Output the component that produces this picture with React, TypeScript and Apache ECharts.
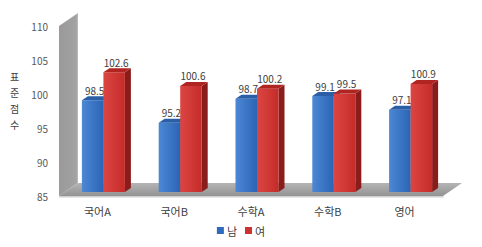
import React, { useEffect, useRef } from "react";
import * as echarts from "echarts";

const categories = ["국어A", "국어B", "수학A", "수학B", "영어"];
const seriesNames = ["남", "여"];
const maleScores = [98.5, 95.2, 98.7, 99.1, 97.1];
const femaleScores = [102.6, 100.6, 100.2, 99.5, 100.9];
const yMin = 85;
const yMax = 110;
const yStep = 5;
const axisTitle = "표\n준\n점\n수";

const FONT = "'Noto Sans CJK KR', 'Noto Sans', sans-serif";

const palettes = [
  { front: ["#4c88d6", "#2b64b4"], side: "#1d4c8c", top: "#2a5fa8", legend: "#2e6bbd" },
  { front: ["#dc4642", "#c42c29"], side: "#8a1d1b", top: "#b02422", legend: "#cc3330" },
];

function barRenderer(idx: number) {
  const pal = palettes[idx];
  return (params: any, api: any) => {
    const cat = api.value(0);
    const val = api.value(1);
    const band = api.size([1, 0])[0];
    const bw = band * 0.28;
    const topPt = api.coord([cat, val]);
    const basePt = api.coord([cat, yMin]);
    const sx = 6, sy = -4, dx = 6, dy = -4;
    const x0 = topPt[0] - bw + idx * bw + sx;
    const yt = topPt[1] + sy;
    const yb = basePt[1] + sy;
    return {
      type: "group",
      children: [
        {
          type: "polygon",
          shape: { points: [[x0 + bw, yt], [x0 + bw + dx, yt + dy], [x0 + bw + dx, yb + dy], [x0 + bw, yb]] },
          style: { fill: pal.side },
        },
        {
          type: "rect",
          shape: { x: x0, y: yt, width: bw, height: yb - yt },
          style: {
            fill: new echarts.graphic.LinearGradient(0, 0, 1, 0, [
              { offset: 0, color: pal.front[0] },
              { offset: 1, color: pal.front[1] },
            ]),
          },
        },
        {
          type: "polygon",
          shape: { points: [[x0, yt], [x0 + dx, yt + dy], [x0 + bw + dx, yt + dy], [x0 + bw, yt]] },
          style: { fill: pal.top },
        },
        {
          type: "text",
          style: {
            text: String(val.toFixed(1)),
            x: x0 + bw / 2 + 2,
            y: yt + dy - 1,
            align: "center",
            verticalAlign: "bottom",
            fill: "#404040",
            font: `10px ${FONT}`,
          },
        },
      ],
    };
  };
}

function frameRenderer(params: any, api: any) {
  const cs = params.coordSys;
  const L = cs.x, R = cs.x + cs.width, T = cs.y, B = cs.y + cs.height;
  const dx = 19, dy = -13;
  return {
    type: "group",
    children: [
      {
        type: "polygon",
        shape: { points: [[L, T], [L + dx, T + dy], [L + dx, B + dy], [L, B]] },
        style: {
          fill: new echarts.graphic.LinearGradient(0, 0, 1, 0, [
            { offset: 0, color: "#9a9a9a" },
            { offset: 0.9, color: "#a2a2a2" },
            { offset: 1, color: "#bdbdbd" },
          ]),
        },
      },
      {
        type: "polygon",
        shape: { points: [[L, B], [L + dx, B + dy], [R + dx, B + dy], [R, B]] },
        style: {
          fill: new echarts.graphic.LinearGradient(0, 0, 0, 1, [
            { offset: 0, color: "#b4b4b4" },
            { offset: 1, color: "#939393" },
          ]),
        },
      },
      {
        type: "polygon",
        shape: { points: [[L, B], [R, B], [R + 1, B + 1.5], [L, B + 1.5]] },
        style: { fill: "#cfcfcf" },
      },
    ],
  };
}

export default function App() {
  const ref = useRef<HTMLDivElement>(null);
  useEffect(() => {
    if (!ref.current) return;
    const chart = echarts.init(ref.current, null, { renderer: "svg" });
    chart.setOption({
      animation: false,
      backgroundColor: "#ffffff",
      textStyle: { fontFamily: FONT },
      grid: { left: 59, right: 39, top: 26, bottom: 51 },
      legend: {
        data: seriesNames,
        bottom: 6,
        left: "center",
        itemWidth: 7,
        itemHeight: 7,
        itemGap: 8,
        icon: "rect",
        textStyle: { fontSize: 11, color: "#404040", fontFamily: FONT, padding: [0, 0, 0, -2] },
      },
      xAxis: {
        type: "category",
        data: categories,
        axisLine: { show: false },
        axisTick: { show: false },
        splitLine: { show: false },
        axisLabel: { margin: 9, fontSize: 11, color: "#404040", fontFamily: FONT },
      },
      yAxis: {
        type: "value",
        min: yMin,
        max: yMax,
        interval: yStep,
        axisLine: { show: false },
        axisTick: { show: false },
        splitLine: { show: false },
        axisLabel: { margin: 11, fontSize: 10, color: "#595959", fontFamily: FONT },
      },
      graphic: [
        {
          type: "text",
          left: 10,
          top: 68,
          style: {
            text: axisTitle,
            font: `10px ${FONT}`,
            fill: "#404040",
            lineHeight: 16,
            align: "center",
          },
        },
      ],
      series: [
        {
          type: "custom",
          name: "frame",
          silent: true,
          z: 1,
          renderItem: frameRenderer,
          data: [[0, yMin]],
          encode: { x: 0, y: 1 },
        },
        {
          type: "custom",
          name: seriesNames[0],
          z: 2,
          itemStyle: { color: palettes[0].legend },
          renderItem: barRenderer(0),
          data: maleScores.map((v, i) => [i, v]),
          encode: { x: 0, y: 1 },
        },
        {
          type: "custom",
          name: seriesNames[1],
          z: 3,
          itemStyle: { color: palettes[1].legend },
          renderItem: barRenderer(1),
          data: femaleScores.map((v, i) => [i, v]),
          encode: { x: 0, y: 1 },
        },
      ],
    });
    return () => chart.dispose();
  }, []);
  return (
    <div
      ref={ref}
      style={{ position: "fixed", left: 0, top: 0, width: 482, height: 247, background: "#fff" }}
    />
  );
}
